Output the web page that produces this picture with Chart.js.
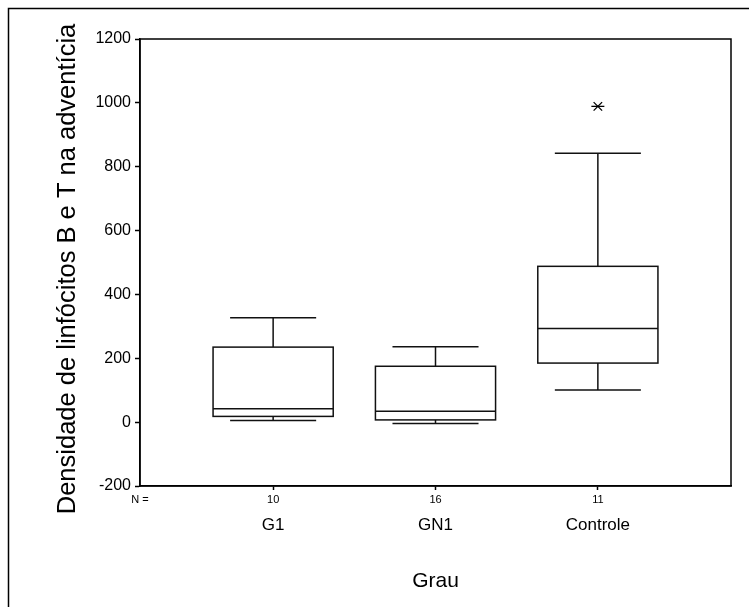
<!DOCTYPE html>
<html>
<head>
<meta charset="utf-8">
<script src="https://cdn.jsdelivr.net/npm/chart.js@4.4.1/dist/chart.umd.min.js"></script>
<style>
  body { margin: 0; background: #fff; overflow: hidden; }
</style>
</head>
<body>
<canvas id="boxChart" width="749" height="607"></canvas>
<script>
// valores
const groups = ['G1', 'GN1', 'Controle'];
const nCounts = ['10', '16', '11'];
const whiskerLow = [5, -4, 101];
const q1 = [18, 7, 185];
const medians = [42, 34, 293];
const q3 = [235, 175, 488];
const whiskerHigh = [327, 236, 842];
const outlierX = [3];
const outlierY = [989];
const yTicks = [-200, 0, 200, 400, 600, 800, 1000, 1200];
const yTitle = 'Densidade de linfócitos B e T na adventícia';

const BOX_W = 0.74;   // largura da caixa em unidades do eixo x
const CAP_W = 0.53;   // largura da barra dos bigodes

Chart.defaults.font.family = "'Liberation Sans', Arial, sans-serif";
Chart.defaults.color = '#000';

const boxPlugin = {
    id: 'boxes',
    beforeDraw(chart) {
        // moldura externa (cortada à direita e embaixo)
        const ctx = chart.ctx;
        ctx.save();
        ctx.strokeStyle = '#000';
        ctx.lineWidth = 1.5;
        ctx.beginPath();
        ctx.moveTo(8.5, chart.height + 5);
        ctx.lineTo(8.5, 8.5);
        ctx.lineTo(chart.width + 5, 8.5);
        ctx.stroke();

        // título do eixo y
        ctx.translate(68, 269);
        ctx.rotate(-Math.PI / 2);
        ctx.font = "25.5px 'Liberation Sans', Arial, sans-serif";
        ctx.fillStyle = '#000';
        ctx.textAlign = 'center';
        ctx.textBaseline = 'middle';
        ctx.fillText(yTitle, 0, 0);
        ctx.restore();
    },
    afterDatasetsDraw(chart) {
        const { ctx, chartArea, scales } = chart;
        const x = scales.x, y = scales.y;
        ctx.save();
        ctx.strokeStyle = '#111';
        ctx.lineWidth = 1.5;

        groups.forEach((g, i) => {
            const pos = i + 1;
            const cx = x.getPixelForValue(pos);
            const bl = x.getPixelForValue(pos - BOX_W / 2), br = x.getPixelForValue(pos + BOX_W / 2);
            const cl = x.getPixelForValue(pos - CAP_W / 2), cr = x.getPixelForValue(pos + CAP_W / 2);
            const yLo = y.getPixelForValue(whiskerLow[i]);
            const yQ1 = y.getPixelForValue(q1[i]);
            const yMed = y.getPixelForValue(medians[i]);
            const yQ3 = y.getPixelForValue(q3[i]);
            const yHi = y.getPixelForValue(whiskerHigh[i]);

            ctx.beginPath();
            // bigodes
            ctx.moveTo(cx, yQ3); ctx.lineTo(cx, yHi);
            ctx.moveTo(cx, yQ1); ctx.lineTo(cx, yLo);
            ctx.moveTo(cl, yHi); ctx.lineTo(cr, yHi);
            ctx.moveTo(cl, yLo); ctx.lineTo(cr, yLo);
            // mediana
            ctx.moveTo(bl, yMed); ctx.lineTo(br, yMed);
            ctx.stroke();
            ctx.strokeRect(bl, yQ3, br - bl, yQ1 - yQ3);
        });

        // contorno da área do gráfico
        ctx.strokeStyle = '#000';
        ctx.strokeRect(chartArea.left, chartArea.top, chartArea.right - chartArea.left, chartArea.bottom - chartArea.top);
        ctx.restore();
    }
};

const outlierPts = outlierX.map((v, i) => ({ x: v, y: outlierY[i] }));

new Chart(document.getElementById('boxChart'), {
    type: 'scatter',
    data: {
        datasets: [
            { data: outlierPts, pointStyle: 'crossRot', radius: 6, borderColor: '#000', borderWidth: 1.3, backgroundColor: '#000' },
            { data: outlierPts, pointStyle: 'line', radius: 6.5, borderColor: '#000', borderWidth: 1.3, backgroundColor: '#000' }
        ]
    },
    options: {
        responsive: false,
        animation: false,
        devicePixelRatio: 1,
        layout: { padding: { left: 0, top: 39, right: 18, bottom: 0 } },
        plugins: { legend: { display: false }, tooltip: { enabled: false } },
        scales: {
            y: {
                type: 'linear', min: -200, max: 1200,
                afterBuildTicks: (s) => { s.ticks = yTicks.map(v => ({ value: v })); },
                afterFit: (s) => { s.width = 140; },
                ticks: { font: { size: 16 }, color: '#000', padding: 4, callback: (v) => String(v) },
                grid: { drawOnChartArea: false, tickLength: 5, tickColor: '#000', tickWidth: 1.5 },
                border: { display: true, color: '#000', width: 1.5 }
            },
            x: {
                type: 'linear', position: 'bottom', weight: 0, min: 0.18, max: 3.82,
                afterBuildTicks: (s) => { s.ticks = [0.18, 1, 2, 3].map(v => ({ value: v })); },
                afterFit: (s) => { s.height = 25; },
                ticks: {
                    callback: (v, i) => i === 0 ? 'N =' : nCounts[i - 1],
                    font: { size: 11 }, color: '#000', padding: 3, maxRotation: 0, autoSkip: false
                },
                grid: {
                    drawOnChartArea: false, tickLength: 4, tickWidth: 1.5,
                    tickColor: (c) => c.index === 0 ? 'rgba(0,0,0,0)' : '#000'
                },
                border: { display: true, color: '#000', width: 1.5 }
            },
            xg: {
                type: 'linear', position: 'bottom', weight: 1, min: 0.18, max: 3.82,
                afterBuildTicks: (s) => { s.ticks = groups.map((g, i) => ({ value: i + 1 })); },
                afterFit: (s) => { s.height = 96; },
                ticks: {
                    callback: (v, i) => groups[i],
                    font: { size: 17 }, color: '#000', padding: 4, maxRotation: 0, autoSkip: false
                },
                grid: { display: false, drawTicks: false },
                border: { display: false },
                title: {
                    display: true, text: 'Grau',
                    font: { size: 21 }, color: '#000',
                    padding: { top: 0, bottom: 13 }
                }
            }
        }
    },
    plugins: [boxPlugin]
});
</script>
</body>
</html>
